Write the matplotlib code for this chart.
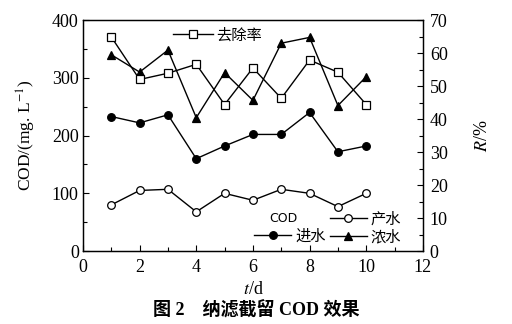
import numpy as np
import matplotlib.pyplot as plt
from matplotlib.lines import Line2D
from matplotlib.ticker import MultipleLocator

plt.rcParams['font.family'] = ['Liberation Serif', 'Noto Sans CJK SC']
plt.rcParams['mathtext.fontset'] = 'stix'

# 运行天数与各项 COD 数据
days = [1, 2, 3, 4, 5, 6, 7, 8, 9, 10]
cod_in = [233, 222, 236, 160, 182, 202, 202, 240, 172, 182]     # 进水
cod_out = [80, 105, 107, 68, 100, 88, 107, 100, 77, 100]        # 产水
cod_conc = [340, 310, 348, 231, 309, 261, 360, 370, 252, 302]   # 浓水
removal = [64.9, 52.0, 53.9, 56.6, 44.4, 55.5, 46.3, 57.9, 54.2, 44.4]  # 去除率 %

fig = plt.figure(figsize=(5.12, 3.24), dpi=100)
ax = fig.add_axes([0.162, 0.225, 0.664, 0.713])
ax2 = ax.twinx()

kw = dict(color='black', lw=1.0, markersize=5.5, markeredgewidth=0.9)
ax.plot(days, cod_out, marker='o', mfc='white', mec='black', **kw)
ax.plot(days, cod_in, marker='o', mfc='black', mec='black', **kw)
ax.plot(days, cod_conc, marker='^', mfc='black', mec='black', **kw)
ax2.plot(days, removal, marker='s', mfc='white', mec='black', **kw)

ax.set_xlim(0, 12)
ax.set_ylim(0, 400)
ax2.set_ylim(0, 70)
ax.xaxis.set_major_locator(MultipleLocator(2))
ax.xaxis.set_minor_locator(MultipleLocator(1))
ax.yaxis.set_major_locator(MultipleLocator(100))
ax.yaxis.set_minor_locator(MultipleLocator(50))
ax2.yaxis.set_major_locator(MultipleLocator(10))
ax2.yaxis.set_minor_locator(MultipleLocator(5))

for a in (ax, ax2):
    a.tick_params(which='both', direction='in', labelsize=13, width=0.8)
    a.tick_params(which='major', length=4)
    a.tick_params(which='minor', length=3)
    for s in a.spines.values():
        s.set_linewidth(0.9)
ax.tick_params(axis='x', pad=6)
ax.tick_params(axis='y', pad=3)
ax2.tick_params(axis='y', pad=5)

ax.set_xlabel('$\\it{t}$/d', fontsize=13, labelpad=3)
ax.set_ylabel('COD/(mg. L$^{-1}$)', fontsize=12.5, labelpad=10)
ax2.set_ylabel('$\\it{R}$/%', fontsize=13, labelpad=19)

# 图例
h_rm = Line2D([], [], marker='s', mfc='white', mec='black', **kw)
leg1 = ax2.legend([h_rm], ['去除率'], loc='center left', bbox_to_anchor=(0.265, 0.935),
                  frameon=False, fontsize=11, handlelength=2.6, handletextpad=0.25,
                  borderaxespad=0, borderpad=0)

h_blank = Line2D([], [], color='none')
h_out = Line2D([], [], marker='o', mfc='white', mec='black', **kw)
h_in = Line2D([], [], marker='o', mfc='black', mec='black', **kw)
h_conc = Line2D([], [], marker='^', mfc='black', mec='black', **kw)
leg2 = ax2.legend([h_blank, h_in, h_out, h_conc], [' ', '进水', '产水', '浓水'],
                  ncol=2, loc='center', bbox_to_anchor=(0.72, 0.10),
                  frameon=False, fontsize=11, handlelength=2.4, handletextpad=0.25,
                  columnspacing=0.3, labelspacing=0.2, borderpad=0)
ax2.add_artist(leg1)
ax.text(0.59, 0.143, 'COD', transform=ax.transAxes, fontsize=9,
        family='DejaVu Sans', ha='center', va='center')

fig.text(0.5, 0.043, '图 2    纳滤截留 COD 效果', ha='center', va='center',
         fontsize=13, fontweight='bold')

fig.savefig('out.png', dpi=100)
